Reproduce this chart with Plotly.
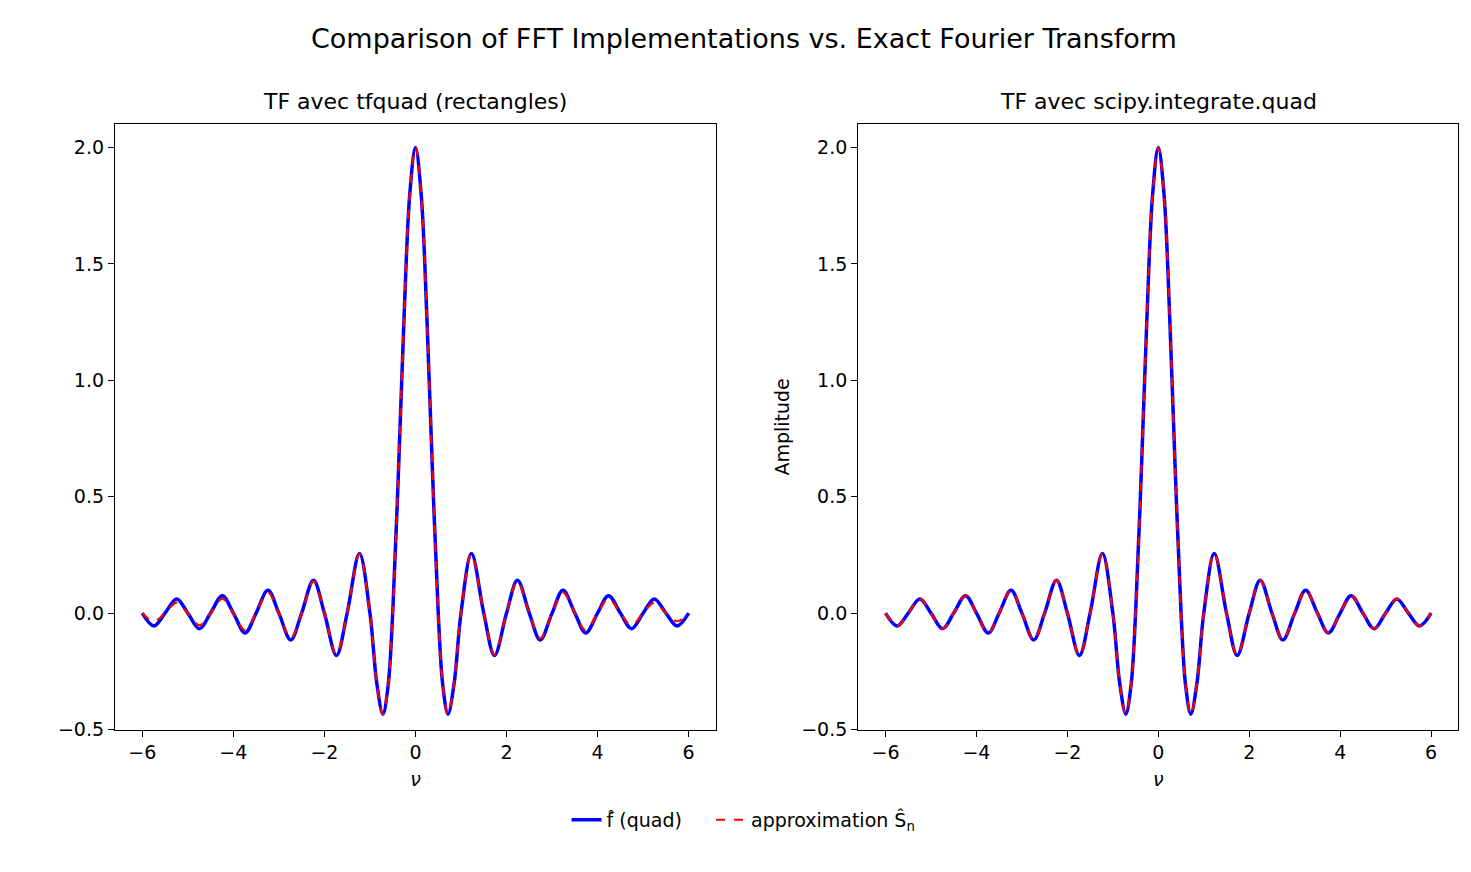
import plotly.graph_objects as go

# values (positive half, curves are symmetric)
nu_half = [0, 0.125, 0.25, 0.375, 0.5, 0.6, 0.715, 0.85, 1.0, 1.23, 1.5, 1.735, 2.0,
           2.24, 2.5, 2.74, 3.0, 3.24, 3.5, 3.74, 4.0, 4.24, 4.5, 4.745, 5.0,
           5.245, 5.5, 5.745, 6.0]
quad_half = [2.0, 1.80, 1.273, 0.60, 0.0, -0.31, -0.434, -0.30, 0.0, 0.256, 0.0, -0.182, 0.0,
             0.141, 0.0, -0.115, 0.0, 0.098, 0.0, -0.085, 0.0, 0.075, 0.0, -0.067, 0.0,
             0.061, 0.0, -0.055, 0.0]
rect_half = [2.0, 1.80, 1.273, 0.60, 0.0, -0.31, -0.434, -0.30, 0.0, 0.254, 0.0, -0.178, 0.0,
             0.136, 0.0, -0.108, 0.0, 0.088, 0.0, -0.074, 0.0, 0.062, 0.0, -0.052, 0.0,
             0.045, 0.0, -0.035, 0.0]

nu = [-v for v in nu_half[:0:-1]] + nu_half
quad = quad_half[:0:-1] + quad_half
rect = rect_half[:0:-1] + rect_half

fig = go.Figure()
font = dict(family="DejaVu Sans", size=19, color="black")

panels = [("x", "y", rect, "TF avec tfquad (rectangles)"),
          ("x2", "y2", quad, "TF avec scipy.integrate.quad")]
for i, (xa, ya, approx, title) in enumerate(panels):
    fig.add_trace(go.Scatter(x=nu, y=quad, xaxis=xa, yaxis=ya, mode="lines",
                             line=dict(color="blue", width=3.5, shape="spline"),
                             name="f̂ (quad)    ", showlegend=(i == 0)))
    fig.add_trace(go.Scatter(x=nu, y=approx, xaxis=xa, yaxis=ya, mode="lines",
                             line=dict(color="red", width=2.2, dash="dash", shape="spline"),
                             name="approximation Ŝ<sub>n</sub>", showlegend=(i == 0)))

axis_common = dict(showline=True, mirror=True, linecolor="black", linewidth=1.2,
                   ticks="outside", ticklen=6, tickcolor="black", showgrid=False,
                   zeroline=False, tickfont=font)
xdoms = [[0.0727, 0.4813], [0.578, 0.986]]
for i in range(2):
    s = "" if i == 0 else "2"
    fig.layout["xaxis" + s] = dict(axis_common, domain=xdoms[i], range=[-6.6, 6.6],
                                   tickvals=[-6, -4, -2, 0, 2, 4, 6],
                                   ticktext=["−6", "−4", "−2", "0", "2", "4", "6"],
                                   title=dict(text="<i>ν</i>", font=font, standoff=10),
                                   anchor="y" + s)
    fig.layout["yaxis" + s] = dict(axis_common, domain=[0.162, 0.865], range=[-0.5, 2.1],
                                   tickvals=[-0.5, 0, 0.5, 1, 1.5, 2],
                                   ticktext=["−0.5", "0.0", "0.5", "1.0", "1.5", "2.0"],
                                   anchor="x" + s)
fig.layout.yaxis2.title = dict(text="Amplitude", font=font, standoff=6)

for i, (_, _, _, title) in enumerate(panels):
    fig.add_annotation(text=title, xref="paper", yref="paper",
                       x=sum(xdoms[i]) / 2, y=0.875, xanchor="center", yanchor="bottom",
                       showarrow=False, font=dict(family="DejaVu Sans", size=22, color="black"))
fig.add_annotation(text="Comparison of FFT Implementations vs. Exact Fourier Transform",
                   xref="paper", yref="paper", x=0.5, y=0.985, xanchor="center",
                   yanchor="top", showarrow=False,
                   font=dict(family="DejaVu Sans", size=27, color="black"))

fig.update_layout(width=1471, height=872, plot_bgcolor="white", paper_bgcolor="white",
                  margin=dict(l=0, r=0, t=0, b=0),
                  legend=dict(orientation="h", x=0.5, y=0.057, xanchor="center",
                              yanchor="middle", font=font))
fig.write_html("out.html")
